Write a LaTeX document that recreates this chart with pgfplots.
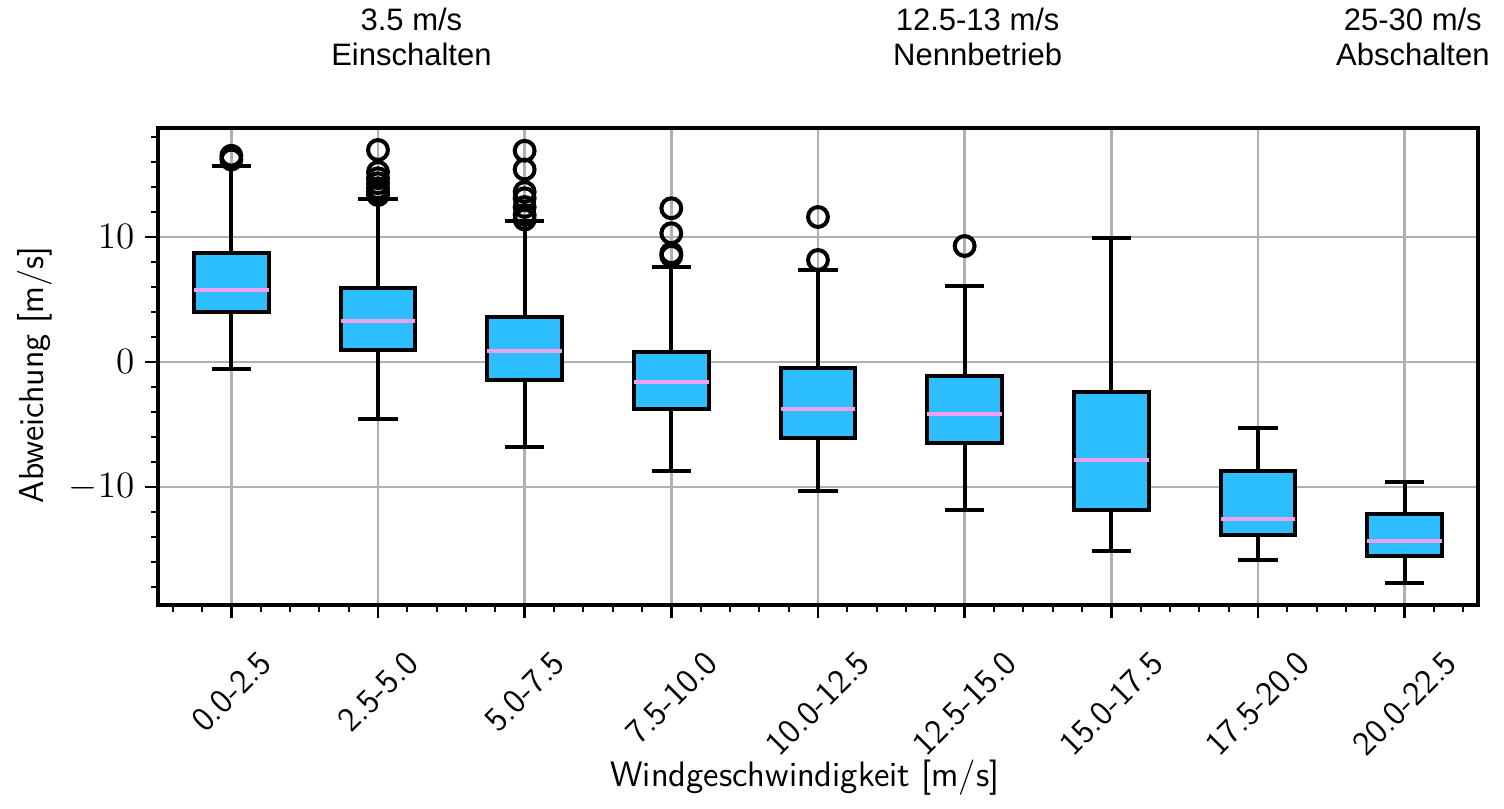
\documentclass[border=0pt]{standalone}
\usepackage{fontspec}
\usepackage{graphicx}
\usepackage{pgfplots}
\pgfplotsset{compat=1.18}
\usepgfplotslibrary{statistics}
\newfontfamily\arialfont{Liberation Sans}
\definecolor{boxblue}{RGB}{44,190,254}
\definecolor{medpink}{RGB}{240,160,240}
\definecolor{gridgray}{RGB}{176,176,176}
\newcommand{\rl}[1]{\rotatebox{45}{\fontsize{11}{13}\sffamily #1}}
\begin{document}
\begin{tikzpicture}
\path[use as bounding box] (-50.97pt,-65.49pt) rectangle (434.22pt,195.17pt);
\begin{axis}[
  at={(0pt,0pt)}, anchor=south west,
  scale only axis, width=425.83pt, height=153.88pt,
  xmin=-0.5, xmax=8.5, ymin=-19.44, ymax=18.72,
  xtick={0,1,2,3,4,5,6,7,8},
  xticklabels={\rl{0.0-2.5},\rl{2.5-5.0},\rl{5.0-7.5},\rl{7.5-10.0},\rl{10.0-12.5},\rl{12.5-15.0},\rl{15.0-17.5},\rl{17.5-20.0},\rl{20.0-22.5}},
  minor xtick={-0.4,-0.2,...,8.4},
  ytick={-10,0,10},
  minor ytick={-18,-16,...,18},
  tick pos=left, tick align=outside,
  major tick length=4.1pt, minor tick length=2.16pt,
  every tick/.style={black, line width=0.85pt},
  minor tick style={black, line width=0.65pt},
  axis line style={line width=1.1pt},
  grid=major, major grid style={gridgray, line width=0.9pt},
  xticklabel style={anchor=north, inner sep=0pt, yshift=-10pt},
  yticklabel style={font=\fontsize{11.5}{13}\selectfont},
  every axis x label/.style={at={(axis description cs:0.5,0)}, anchor=base, yshift=-58.7pt, xshift=-4.2pt, font=\fontsize{11.4}{13}\sffamily},
  every axis y label/.style={at={(axis description cs:0,0.5)}, xshift=-39.7pt, yshift=-2.7pt, rotate=90, anchor=center, font=\fontsize{11.2}{13}\sffamily},
  xlabel={Windgeschwindigkeit [m/s]},
  ylabel={Abweichung [m/s]},
  boxplot/draw direction=y,
  boxplot/box extend=0.51, boxplot/whisker extend=0.27,
  boxplot/every median/.style={draw=medpink, line width=1.3pt},
  clip=false,
]
\pgfplotsset{bx/.style={draw=black, fill=boxblue, line width=1.3pt, mark=o, mark size=3.2pt, mark options={draw=black, fill=none, line width=1.3pt}}}
\addplot[bx, boxplot prepared={draw position=0, median=5.76, upper quartile=8.75, lower quartile=4.03, upper whisker=15.7, lower whisker=-0.53}]
  table[row sep=\\, y index=0] {data\\ 16.5\\ 16.2\\};
\addplot[bx, boxplot prepared={draw position=1, median=3.28, upper quartile=5.9, lower quartile=0.96, upper whisker=13.07, lower whisker=-4.56}]
  table[row sep=\\, y index=0] {data\\ 16.96\\ 15.2\\ 14.7\\ 14.3\\ 13.9\\ 13.6\\ 13.36\\};
\addplot[bx, boxplot prepared={draw position=2, median=0.91, upper quartile=3.63, lower quartile=-1.44, upper whisker=11.28, lower whisker=-6.8}]
  table[row sep=\\, y index=0] {data\\ 16.9\\ 15.4\\ 13.6\\ 13.1\\ 12.4\\ 11.76\\ 11.4\\};
\addplot[bx, boxplot prepared={draw position=3, median=-1.6, upper quartile=0.8, lower quartile=-3.76, upper whisker=7.6, lower whisker=-8.72}]
  table[row sep=\\, y index=0] {data\\ 12.3\\ 10.3\\ 8.7\\ 8.5\\};
\addplot[bx, boxplot prepared={draw position=4, median=-3.76, upper quartile=-0.48, lower quartile=-6.08, upper whisker=7.36, lower whisker=-10.32}]
  table[row sep=\\, y index=0] {data\\ 11.6\\ 8.16\\};
\addplot[bx, boxplot prepared={draw position=5, median=-4.16, upper quartile=-1.12, lower quartile=-6.48, upper whisker=6.08, lower whisker=-11.84}]
  table[row sep=\\, y index=0] {data\\ 9.28\\};
\addplot[bx, boxplot prepared={draw position=6, median=-7.87, upper quartile=-2.43, lower quartile=-11.84, upper whisker=9.92, lower whisker=-15.15}]
  coordinates {};
\addplot[bx, boxplot prepared={draw position=7, median=-12.59, upper quartile=-8.69, lower quartile=-13.87, upper whisker=-5.25, lower whisker=-15.84}]
  coordinates {};
\addplot[bx, boxplot prepared={draw position=8, median=-14.32, upper quartile=-12.19, lower quartile=-15.49, upper whisker=-9.63, lower whisker=-17.71}]
  coordinates {};
\node[anchor=base, font=\arialfont] at ([yshift=31.4pt]axis cs:1.228,18.72) {3.5 m/s};
\node[anchor=base, font=\arialfont] at ([yshift=20.3pt]axis cs:1.228,18.72) {Einschalten};
\node[anchor=base, font=\arialfont] at ([yshift=31.4pt]axis cs:5.089,18.72) {12.5-13 m/s};
\node[anchor=base, font=\arialfont] at ([yshift=20.3pt]axis cs:5.089,18.72) {Nennbetrieb};
\node[anchor=base, font=\arialfont] at ([yshift=31.4pt]axis cs:8.056,18.72) {25-30 m/s};
\node[anchor=base, font=\arialfont] at ([yshift=20.3pt]axis cs:8.056,18.72) {Abschalten};
\end{axis}
\end{tikzpicture}
\end{document}
